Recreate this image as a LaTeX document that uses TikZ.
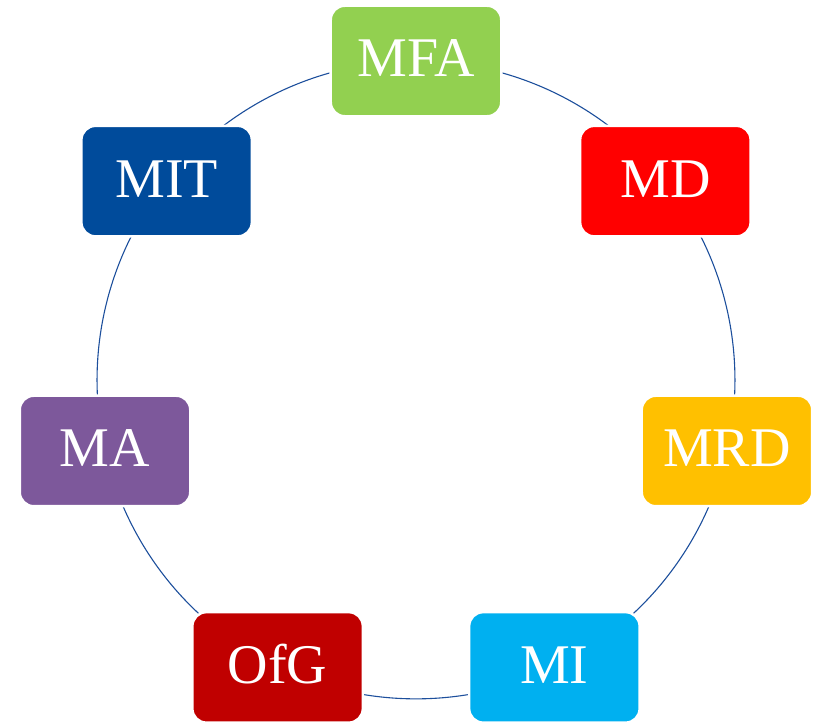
\documentclass[tikz,border=0pt]{standalone}
\usepackage{fontspec}
\setmainfont{Liberation Serif}
\usetikzlibrary{backgrounds}
\definecolor{cMFA}{HTML}{92D050}
\definecolor{cMD}{HTML}{FF0000}
\definecolor{cMRD}{HTML}{FFC000}
\definecolor{cMI}{HTML}{00B0F0}
\definecolor{cOfG}{HTML}{C00000}
\definecolor{cMA}{HTML}{7D589B}
\definecolor{cMIT}{HTML}{004B9B}
\definecolor{cLine}{HTML}{1D4F9C}
\tikzset{
  box/.style={rectangle, rounded corners=14pt, draw=white, line width=2.5pt,
    minimum width=170.5pt, minimum height=110.5pt, inner sep=0pt,
    text=white, font=\fontsize{56}{62}\selectfont,
    text height=41pt, text depth=9pt},
  ring/.style={draw=cLine, line width=1.1pt, bend left=25.71, looseness=0.896}
}
\begin{document}
\begin{tikzpicture}[x=1pt,y=1pt]
\useasboundingbox (-416,-341) rectangle (398,380);
\node[box, fill=cMFA] (mfa) at (90:319) {MFA};
\node[box, fill=cMD]  (md)  at (38.571:319) {MD};
\node[box, fill=cMRD] (mrd) at (-12.857:319) {MRD};
\node[box, fill=cMI]  (mi)  at (-64.286:319) {MI};
\node[box, fill=cOfG] (ofg) at (-115.714:319) {OfG};
\node[box, fill=cMA]  (ma)  at (-167.143:319) {MA};
\node[box, fill=cMIT] (mit) at (141.429:319) {MIT};
\begin{scope}[on background layer]
\draw[ring] (mfa.center) to (md.center);
\draw[ring] (md.center) to (mrd.center);
\draw[ring] (mrd.center) to (mi.center);
\draw[ring] (mi.center) to (ofg.center);
\draw[ring] (ofg.center) to (ma.center);
\draw[ring] (ma.center) to (mit.center);
\draw[ring] (mit.center) to (mfa.center);
\end{scope}
\end{tikzpicture}
\end{document}
